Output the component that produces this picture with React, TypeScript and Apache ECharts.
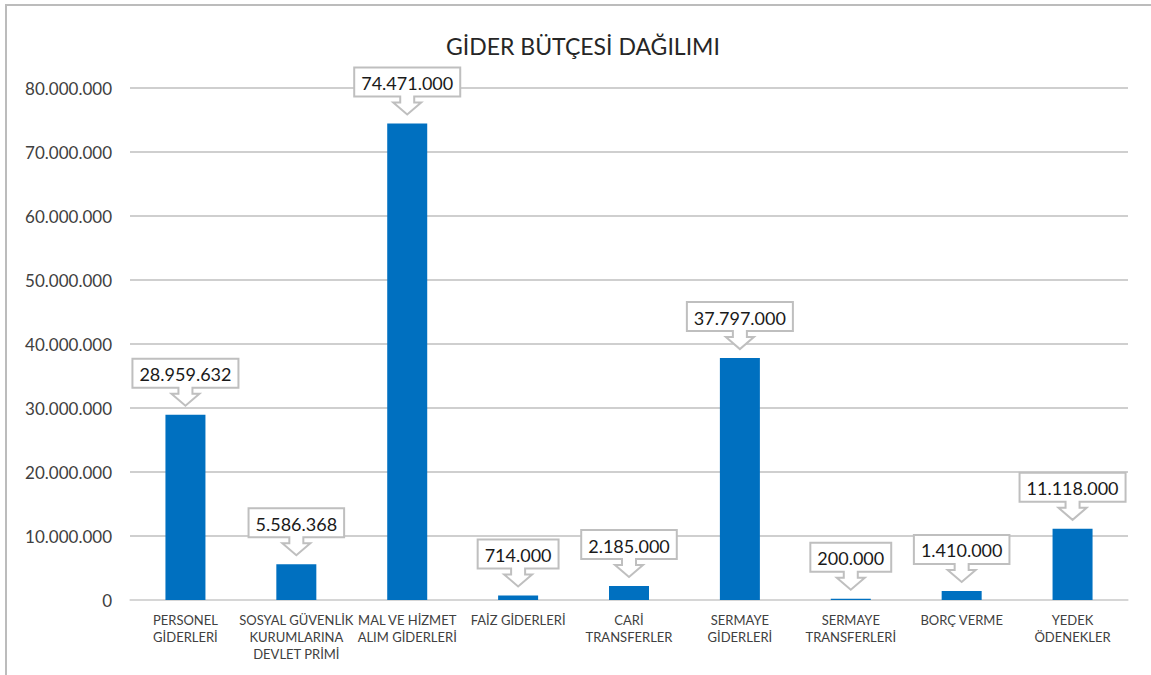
import React, { useEffect, useRef } from "react";
import * as echarts from "echarts";

const categories = [
  "PERSONEL\nGİDERLERİ",
  "SOSYAL GÜVENLİK\nKURUMLARINA\nDEVLET PRİMİ",
  "MAL VE HİZMET\nALIM GİDERLERİ",
  "FAİZ GİDERLERİ",
  "CARİ\nTRANSFERLER",
  "SERMAYE\nGİDERLERİ",
  "SERMAYE\nTRANSFERLERİ",
  "BORÇ VERME",
  "YEDEK\nÖDENEKLER",
];
const values = [28959632, 5586368, 74471000, 714000, 2185000, 37797000, 200000, 1410000, 11118000];
const yMax = 80000000;
const yInterval = 10000000;
const titleText = "GİDER BÜTÇESİ DAĞILIMI";

const FONT = "Lato, 'Open Sans', sans-serif";
const fmt = (v: number) => String(Math.round(v)).replace(/\B(?=(\d{3})+(?!\d))/g, ".");

let measureCtx: CanvasRenderingContext2D | null = null;
const measure = (t: string, font: string) => {
  if (!measureCtx) measureCtx = document.createElement("canvas").getContext("2d");
  measureCtx!.font = font;
  return measureCtx!.measureText(t).width;
};

export default function App() {
  const ref = useRef<HTMLDivElement>(null);
  useEffect(() => {
    const chart = echarts.init(ref.current!, undefined, { renderer: "svg" });
    const labelFont = `18px ${FONT}`;
    chart.setOption({
      animation: false,
      backgroundColor: "#ffffff",
      textStyle: { fontFamily: FONT },
      title: {
        text: titleText,
        left: 441,
        top: 29,
        textStyle: { fontFamily: FONT, fontSize: 23, fontWeight: "normal", color: "#262626" },
      },
      graphic: [
        {
          type: "rect",
          shape: { x: 6, y: 5, width: 1200, height: 720 },
          style: { fill: "none", stroke: "#bcbcbc", lineWidth: 2 },
          silent: true,
        },
      ],
      grid: { left: 130, right: 23, top: 88, bottom: 75 },
      xAxis: {
        type: "category",
        data: categories,
        axisTick: { show: false },
        axisLine: { show: true, lineStyle: { color: "#d9d9d9", width: 1.5 } },
        axisLabel: {
          interval: 0,
          fontFamily: FONT,
          fontSize: 13,
          lineHeight: 17,
          color: "#404040",
          margin: 11,
        },
      },
      yAxis: {
        type: "value",
        min: 0,
        max: yMax,
        interval: yInterval,
        axisLine: { show: false },
        axisTick: { show: false },
        splitLine: { lineStyle: { color: "#bfbfbf", width: 1.5 } },
        axisLabel: {
          fontFamily: FONT,
          fontSize: 17,
          color: "#404040",
          margin: 18,
          formatter: (v: number) => fmt(v),
        },
      },
      series: [
        {
          type: "bar",
          data: values,
          barWidth: 40,
          itemStyle: { color: "#0070c0" },
        },
        {
          type: "custom",
          data: values.map((v, i) => [i, v]),
          z: 10,
          renderItem: (params: any, api: any) => {
            const i = api.value(0);
            const v = api.value(1);
            const p = api.coord([i, v]);
            const cx = p[0];
            const tip = p[1] - 9;
            const headTop = tip - 12;
            const boxBottom = headTop - 6;
            const boxTop = boxBottom - 29;
            const text = fmt(v);
            const tw = measure(text, labelFont);
            const half = tw / 2 + 7;
            const sw = 7;
            const hw = 14;
            const pts = [
              [cx - half, boxTop],
              [cx + half, boxTop],
              [cx + half, boxBottom],
              [cx + sw, boxBottom],
              [cx + sw, headTop],
              [cx + hw, headTop],
              [cx, tip],
              [cx - hw, headTop],
              [cx - sw, headTop],
              [cx - sw, boxBottom],
              [cx - half, boxBottom],
            ];
            return {
              type: "group",
              children: [
                {
                  type: "polygon",
                  shape: { points: pts },
                  style: { fill: "#ffffff", stroke: "#bfbfbf", lineWidth: 2 },
                },
                {
                  type: "text",
                  x: cx,
                  y: (boxTop + boxBottom) / 2 + 1,
                  style: {
                    text,
                    font: labelFont,
                    fill: "#1a1a1a",
                    align: "center",
                    verticalAlign: "middle",
                  },
                },
              ],
            };
          },
        },
      ],
    });
    return () => chart.dispose();
  }, []);
  return (
    <div
      ref={ref}
      style={{ position: "fixed", left: 0, top: 0, width: 1151, height: 675 }}
    />
  );
}
